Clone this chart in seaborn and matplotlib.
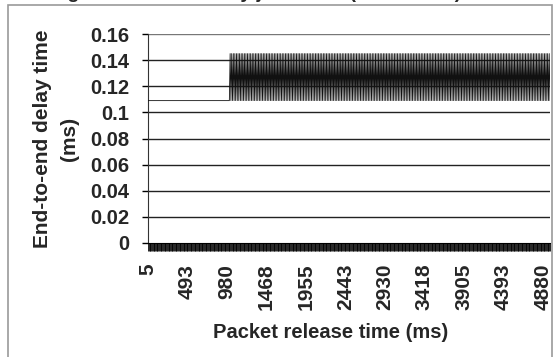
import matplotlib
matplotlib.use("Agg")
import matplotlib.pyplot as plt
from matplotlib.patches import Rectangle
import seaborn as sns
import pandas as pd

# Data
n_points = 510
n_flat = 104
low_delay = 0.109
high_delay = 0.145
delay = [low_delay] * n_flat + [high_delay, low_delay] * ((n_points - n_flat) // 2)
tick_labels = ["5", "493", "980", "1468", "1955", "2443", "2930",
               "3418", "3905", "4393", "4880"]
label_step = 50
y_ticks = [0, 0.02, 0.04, 0.06, 0.08, 0.1, 0.12, 0.14, 0.16]
y_tick_labels = ["0", "0.02", "0.04", "0.06", "0.08", "0.1", "0.12", "0.14", "0.16"]

df = pd.DataFrame({"idx": range(len(delay)), "delay": delay})

sns.set_style("white")
plt.rcParams["font.family"] = ["Liberation Sans", "DejaVu Sans"]
plt.rcParams["font.weight"] = "bold"

fig = plt.figure(figsize=(5.54, 3.57), dpi=100)
ax = fig.add_axes([148 / 554, 1 - 243 / 357, 402 / 554, 209 / 357])

for yv in y_ticks[1:]:
    ax.axhline(yv, color="#222222" if yv < 0.16 else "#777777", lw=1.0, zorder=1)

sns.lineplot(data=df, x="idx", y="delay", ax=ax, color="#111111", lw=0.6, zorder=3)

ax.set_xlim(0, n_points - 1)
ax.set_ylim(0, 0.16)
ax.set_yticks(y_ticks)
ax.set_yticklabels(y_tick_labels, fontsize=14.5, fontweight="bold")
ax.set_xticks(range(0, label_step * len(tick_labels), label_step))
ax.set_xticklabels(tick_labels, rotation=90, fontsize=15, fontweight="bold")
ax.set_xticks(range(n_points), minor=True)
ax.tick_params(axis="x", which="both", direction="out", length=6, width=0.6,
               color="black", bottom=True)
ax.tick_params(axis="x", which="major", pad=9)
ax.tick_params(axis="y", direction="out", length=4.5, width=1, color="black",
               left=True, pad=9)

for s in ["top", "right"]:
    ax.spines[s].set_visible(False)
ax.spines["left"].set_color("#333333")
ax.spines["bottom"].set_color("black")

ax.set_ylabel("End-to-end delay time\n(ms)", fontsize=15, fontweight="bold",
              linespacing=1.5)
ax.yaxis.set_label_coords((79 - 148) / 402, 0.5)
ax.set_xlabel("Packet release time (ms)", fontsize=14.5, fontweight="bold")
ax.xaxis.set_label_coords((331 - 148) / 402, -(323 - 243) / 209)
ax.xaxis.label.set_va("top")

# outer chart border
fig.patches.append(Rectangle((8 / 554, -0.1), 544 / 554, 1.1 - 5 / 357,
                             transform=fig.transFigure, fill=False,
                             edgecolor="#9a9a9a", lw=1.2, zorder=0))
# chart title, clipped by the top edge in the reference
fig.text(0.025, 1 + 2.5 / 357, "Average end-to-end delay jitter time (Scenario 1)",
         fontsize=14, fontweight="bold", va="baseline", ha="left")

fig.savefig("out.png", dpi=100)
